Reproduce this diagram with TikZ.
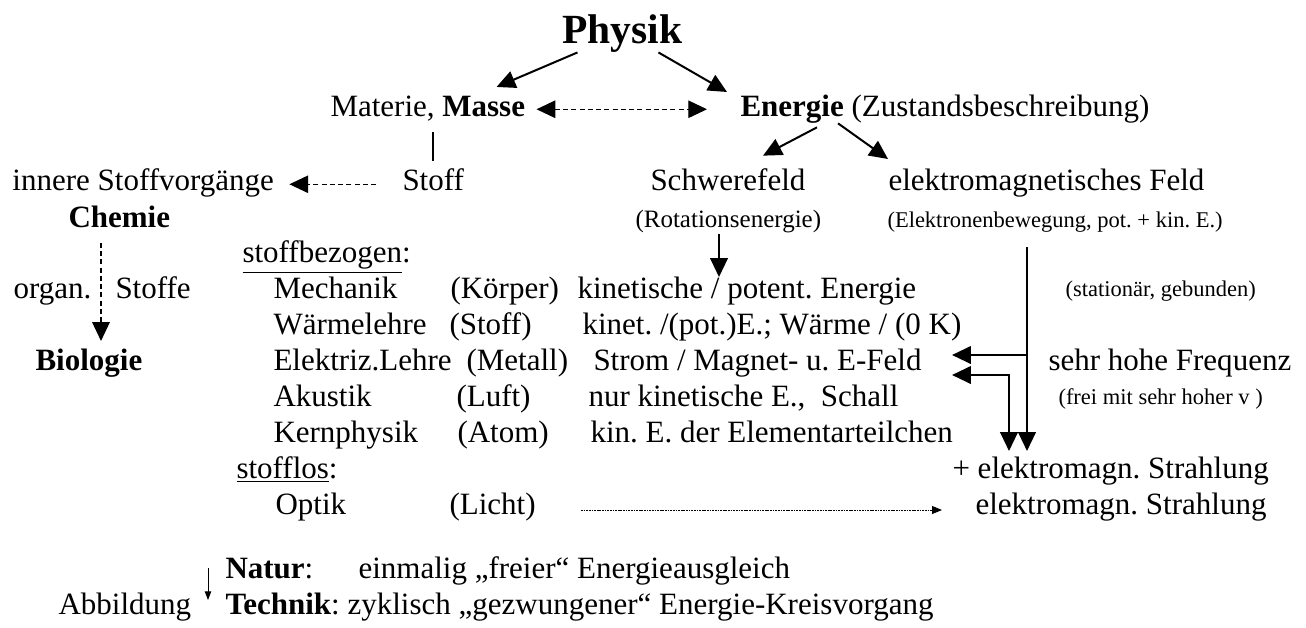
\documentclass[tikz,border=0pt]{standalone}
\usepackage{fontspec}
\setmainfont{Liberation Serif}
\frenchspacing
\usetikzlibrary{arrows.meta, calc}
\tikzset{
    txt/.style={anchor=base west, inner sep=0pt},
    klein/.style={txt, font=\fontsize{9}{10}\selectfont},
    pfeil/.style={-{Triangle[length=7.5pt, width=7pt]}, line width=0.8pt},
    strich/.style={dash pattern=on 2pt off 1.3pt, line width=0.5pt},
    punktiert/.style={dash pattern=on 0.7pt off 0.35pt, line width=0.35pt}
}

\begin{document}
\begin{tikzpicture}[x=0.4pt, y=-0.4pt, font=\fontsize{12.4}{14}\selectfont]
    \fill[white] (0,0) rectangle (1306,627);
    \useasboundingbox (0,0) rectangle (1306,627);
    % Kopf
    \node[txt, font=\fontsize{16.6}{18}\selectfont\bfseries] (physik) at (562,43) {Physik};
    \node[txt] (materie) at (330,116) {Materie, \textbf{Masse}};
    \node[txt] (energie) at (740,116) {\textbf{Energie} (Zustandsbeschreibung)};
    \draw[pfeil] ($(physik.south)+(-45,0)$) -- ($(materie.north east)+(-29,-8)$);
    \draw[pfeil] ($(physik.south)+(36,0)$) -- ($(energie.north west)+(-13,-2)$);
    \draw[pfeil, strich, {Triangle[length=7.5pt, width=7pt]}-{Triangle[length=7.5pt, width=7pt]}]
        ($(materie.mid east)+(11,-1)$) -- ($(energie.mid west)+(-33,-1)$);

    % Stoff
    \node[txt] (stoff) at (402,190) {Stoff};
    \node[txt] (innere) at (12,190) {innere Stoffvorgänge};
    \node[txt] (chemie) at (68,227) {\textbf{Chemie}};
    \node[txt] (organ) at (13,298) {organ.};
    \node[txt] (stoffe) at (115,298) {Stoffe};
    \node[txt] (biologie) at (35,370) {\textbf{Biologie}};
    \draw[line width=0.6pt] ($(stoff.north)+(0,-7)$) -- ($(stoff.north |- materie.south)+(0,11)$);
    \draw[pfeil, strich] ($(stoff.mid west)+(-26,0)$) -- ($(innere.mid east)+(15,0)$);
    \draw[pfeil, strich] ($(chemie.south west)+(33,15)$) -- ($(biologie.north west)+(66,-7)$);

    % Felder
    \node[txt] (schwere) at (650,190) {Schwerefeld};
    \node[txt, font=\fontsize{10}{11}\selectfont] (rot) at (635,227) {(Rotationsenergie)};
    \node[txt] (elfeld) at (888,190) {elektromagnetisches Feld};
    \node[klein] (elbew) at (887,227) {(Elektronenbewegung, pot. + kin. E.)};
    \draw[pfeil] ($(energie.south west)+(77,4)$) -- ($(schwere.north west)+(113,-12)$);
    \draw[pfeil] ($(energie.south west)+(98,0)$) -- ($(elfeld.north west)+(0,-9)$);

    % stoffbezogen
    \node[txt] (bezogen) at (242,262) {\underline{stoffbezogen}:};
    \node[txt] (mech) at (273,298) {Mechanik};
    \node[txt] (koerper) at (450,298) {(Körper)};
    \node[txt] (kin) at (577,298) {kinetische / potent. Energie};
    \node[txt] (waerme) at (273,334) {Wärmelehre};
    \node[txt] (stoffK) at (449,334) {(Stoff)};
    \node[txt] (kinet) at (582,334) {kinet. /(pot.)E.; Wärme / (0 K)};
    \node[txt] (elektriz) at (273,370) {Elektriz.Lehre};
    \node[txt] (metall) at (466,370) {(Metall)};
    \node[txt] (strom) at (593,370) {Strom / Magnet- u. E-Feld};
    \node[txt] (akustik) at (273,406) {Akustik};
    \node[txt] (luft) at (456,406) {(Luft)};
    \node[txt] (schall) at (588,406) {nur kinetische E.,\ \ Schall};
    \node[txt] (kern) at (273,442) {Kernphysik};
    \node[txt] (atom) at (457,442) {(Atom)};
    \node[txt] (teilchen) at (590,442) {kin. E. der Elementarteilchen};
    \draw[pfeil] ($(rot.south west)+(84,1)$) -- ($(kin.north west)+(142,1)$);

    % stofflos
    \node[txt] (los) at (236,478) {\underline{stofflos}:};
    \node[txt] (optik) at (275,514) {Optik};
    \node[txt] (licht) at (449,514) {(Licht)};
    \node[txt] (plus) at (952,478) {+ elektromagn. Strahlung};
    \node[txt] (strahlung) at (975,514) {elektromagn. Strahlung};
    \draw[punktiert, -{Triangle[length=4pt, width=3.2pt]}]
        ($(licht.base east)+(45,-4)$) -- ($(strahlung.base west)+(-33,-4)$);

    % rechte Spalte
    \node[klein] (stationaer) at (1065,296) {(stationär, gebunden)};
    \node[txt] (frequenz) at (1048,370) {sehr hohe Frequenz};
    \node[klein] (frei) at (1058,404) {(frei mit sehr hoher v )};
    \coordinate (feldOben) at ($(elbew.south west)+(140,15)$);
    \coordinate (feldUnten) at ($(plus.north west)+(75,-5)$);
    \coordinate (spitzeA) at ($(strom.base east)+(30,-15)$);
    \coordinate (spitzeB) at ($(strom.base east)+(30,5)$);
    \draw[pfeil] (feldOben) -- (feldUnten);
    \draw[pfeil] (feldOben |- spitzeA) -- (spitzeA);
    \draw[pfeil, {Triangle[length=7.5pt, width=7pt]}-{Triangle[length=7.5pt, width=7pt]}]
        (spitzeB) -| ($(feldUnten)+(-18,0)$);

    % Abbildung
    \node[txt] (natur) at (225,578) {\textbf{Natur}:};
    \node[txt] (einmalig) at (358,578) {einmalig „freier“ Energieausgleich};
    \node[txt] (technik) at (225,614) {\textbf{Technik}: zyklisch „gezwungener“ Energie-Kreisvorgang};
    \node[txt] (abbildung) at (58,614) {Abbildung};
    \draw[line width=0.4pt, -{Triangle[length=3.5pt, width=2.6pt]}]
        ($(natur.base west)+(-17,-10)$) -- ($(technik.base west)+(-17,-14)$);
\end{tikzpicture}
\end{document}
